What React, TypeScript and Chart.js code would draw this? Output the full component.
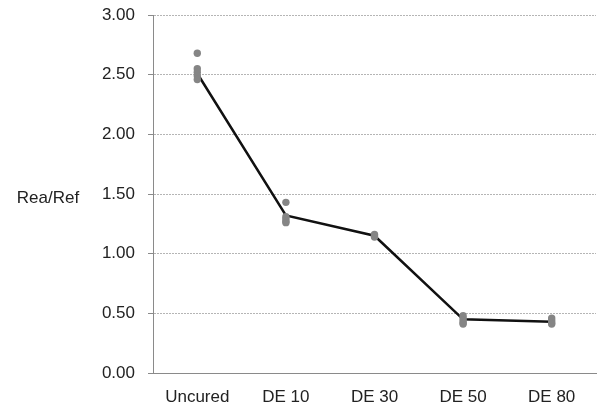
import React, { useEffect, useRef } from "react";
import { Chart, registerables } from "chart.js";

Chart.register(...registerables);

const categories = ["Uncured", "DE 10", "DE 30", "DE 50", "DE 80"];
const meanValues = [2.51, 1.32, 1.15, 0.45, 0.43];
const pointsUncured = [2.68, 2.55, 2.52, 2.49, 2.46];
const pointsDE10 = [1.43, 1.31, 1.29, 1.27, 1.26];
const pointsDE30 = [1.16, 1.15, 1.14];
const pointsDE50 = [0.48, 0.46, 0.44, 0.42, 0.41];
const pointsDE80 = [0.46, 0.44, 0.42, 0.41];
const yTicks = [0, 0.5, 1, 1.5, 2, 2.5, 3];
const yTitle = "Rea/Ref";

const FONT = "'Liberation Sans', Arial, sans-serif";

export default function App() {
  const ref = useRef<HTMLCanvasElement | null>(null);
  useEffect(() => {
    document.body.style.margin = "0";
    const groups = [pointsUncured, pointsDE10, pointsDE30, pointsDE50, pointsDE80];
    const scatter: { x: string; y: number }[] = [];
    groups.forEach((g, i) => g.forEach((v) => scatter.push({ x: categories[i], y: v })));

    const titlePlugin = {
      id: "yTitleHoriz",
      afterDraw(chart: any) {
        const { ctx, chartArea } = chart;
        ctx.save();
        ctx.font = `17px ${FONT}`;
        ctx.fillStyle = "#222";
        ctx.textAlign = "center";
        ctx.textBaseline = "middle";
        ctx.fillText(yTitle, 48, (chartArea.top + chartArea.bottom) / 2 + 4);
        ctx.restore();
      },
    };

    const chart = new Chart(ref.current as HTMLCanvasElement, {
      type: "line",
      data: {
        labels: categories,
        datasets: [
          {
            data: scatter as any,
            showLine: false,
            pointRadius: 3.7,
            pointBackgroundColor: "#858585",
            pointBorderWidth: 0,
            order: 0,
          },
          {
            data: meanValues,
            borderColor: "#111",
            borderWidth: 2.5,
            pointRadius: 0,
            tension: 0,
            order: 1,
          },
        ],
      },
      options: {
        animation: false,
        responsive: false,
        layout: { padding: 0 },
        plugins: { legend: { display: false }, tooltip: { enabled: false } },
        scales: {
          x: {
            type: "category",
            offset: true,
            grid: { display: false, drawTicks: false },
            border: { display: true, color: "#8a8a8a", width: 1 },
            ticks: { color: "#222", font: { family: FONT, size: 17 }, padding: 14, maxRotation: 0 },
            afterFit(scale: any) {
              scale.height = 35;
            },
          },
          y: {
            min: 0,
            max: 3,
            afterBuildTicks(scale: any) {
              scale.ticks = yTicks.map((v) => ({ value: v }));
            },
            grid: {
              color: "#b5b5b5",
              lineWidth: 1,
              tickColor: "#8a8a8a",
              tickLength: 5,
              tickBorderDash: [],
            },
            border: { display: true, color: "#8a8a8a", width: 1, dash: [2, 1] },
            ticks: {
              color: "#222",
              font: { family: FONT, size: 17 },
              padding: 13,
              callback: (v: any) => Number(v).toFixed(2),
            },
            afterFit(scale: any) {
              scale.width = 153;
              scale.paddingTop = 15;
            },
          },
        },
      },
      plugins: [titlePlugin],
    });
    return () => chart.destroy();
  }, []);
  return <canvas ref={ref} width={600} height={408} style={{ display: "block" }} />;
}
